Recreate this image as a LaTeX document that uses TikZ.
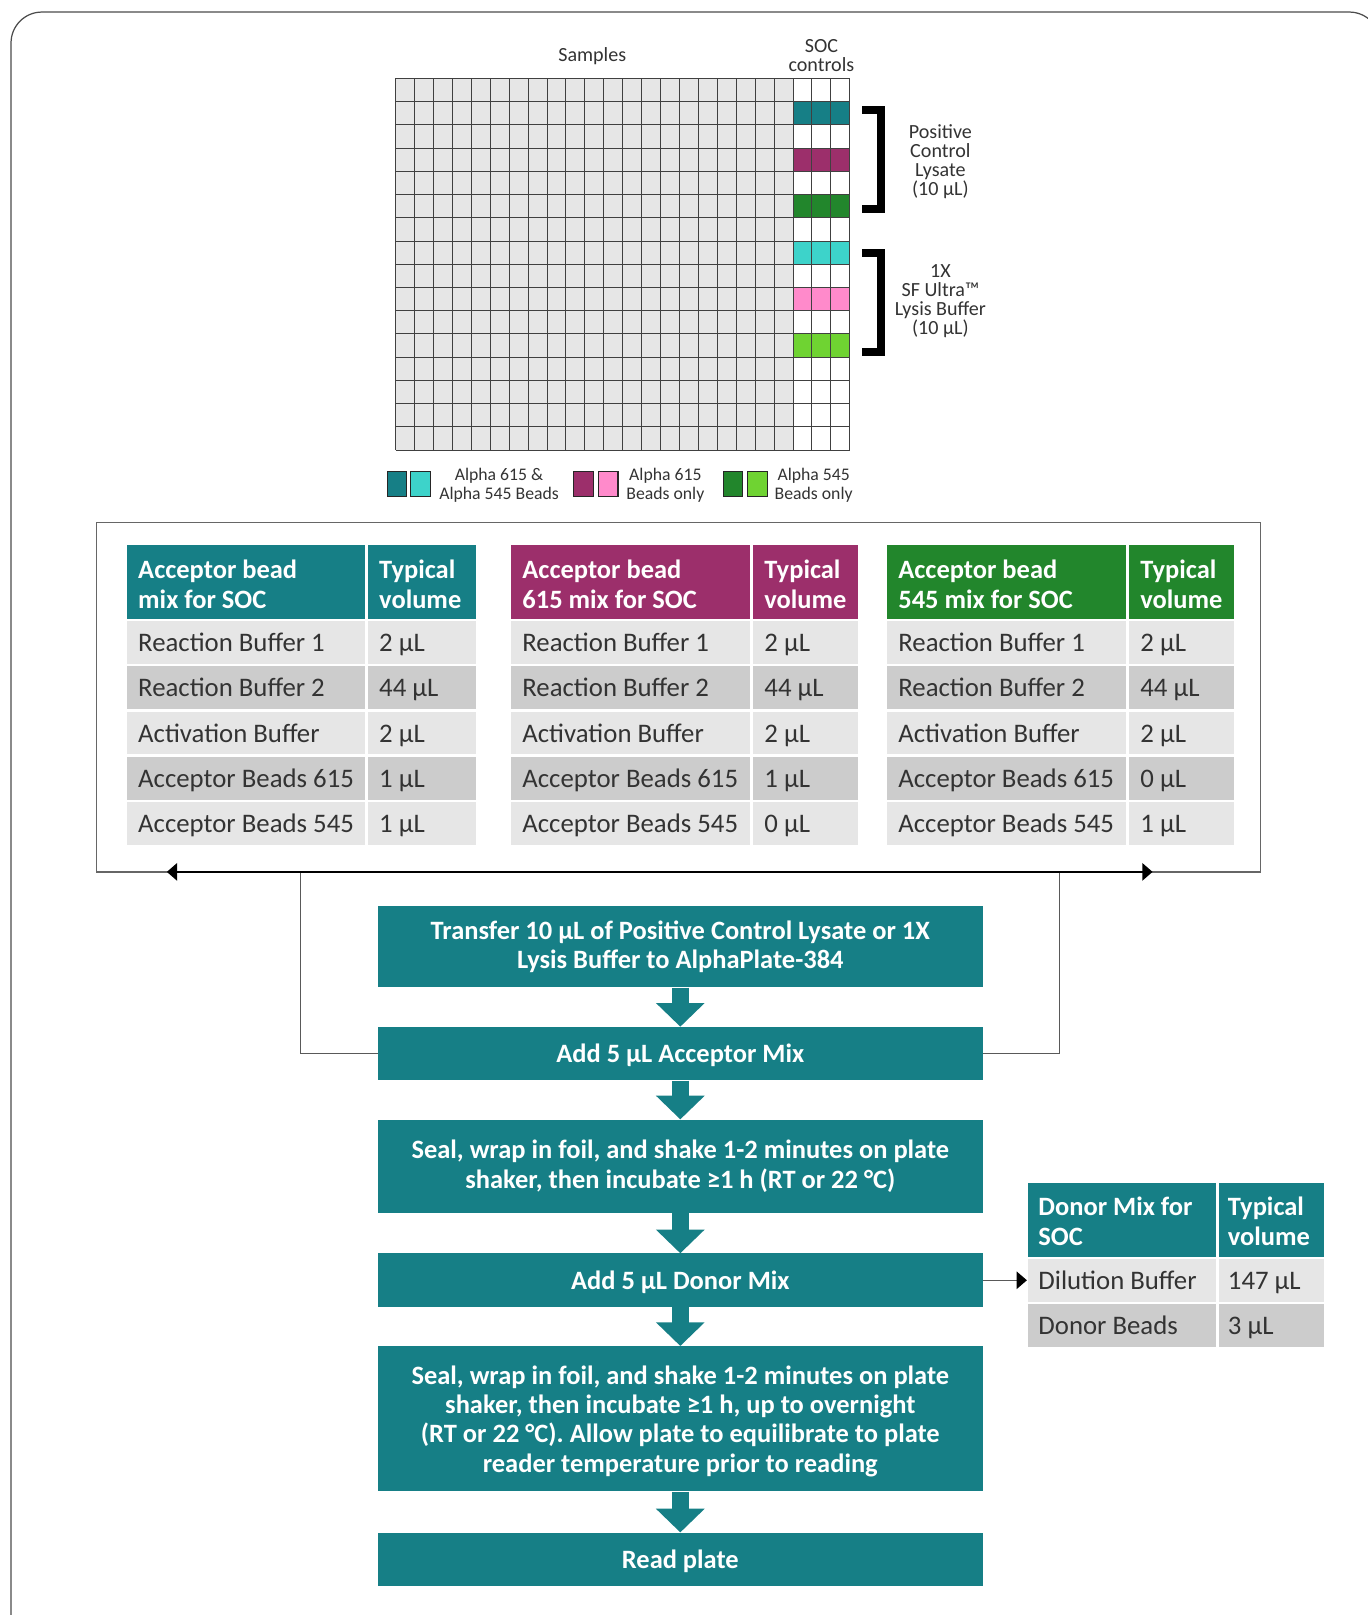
\documentclass[tikz,border=0pt]{standalone}
\usepackage{fontspec}
\setmainfont{Carlito}
\usetikzlibrary{arrows.meta}
\definecolor{socteal}{HTML}{167F86}
\definecolor{socmagenta}{HTML}{9C2F6B}
\definecolor{socgreen}{HTML}{22862C}
\definecolor{soccyan}{HTML}{3DD3CA}
\definecolor{socpink}{HTML}{FF8ACB}
\definecolor{soclime}{HTML}{6FD332}
\definecolor{wellgray}{HTML}{E6E6E6}
\definecolor{rowlight}{HTML}{E6E6E6}
\definecolor{rowdark}{HTML}{CCCCCC}
\begin{document}
\begin{tikzpicture}[x=1pt, y=-1pt]
    \tikzset{
      gridline/.style={draw=black!75, line width=0.8pt},
      platelabel/.style={text=black!80, inner sep=0pt, align=center, font=\fontsize{19.5}{18.5}\selectfont},
      legendbox/.style={draw=black!85, line width=1pt},
      legendlabel/.style={text=black!80, inner sep=0pt, align=center, font=\fontsize{17.2}{18}\selectfont},
      headtext/.style={anchor=west, align=left, inner sep=0pt, text=white, font=\bfseries\fontsize{25.7}{29}\selectfont},
      celltext/.style={anchor=base west, inner sep=0pt, text=black!80, font=\fontsize{26}{29}\selectfont},
      flowbox/.style={fill=socteal, text=white, inner sep=0pt, align=center, minimum width=587pt, font=\bfseries\fontsize{25.7}{28.5}\selectfont},
      flowarrow/.style={draw=socteal, line width=16pt, -{Triangle[width=46pt, length=23pt]}},
      link/.style={draw=black!65, line width=1.1pt},
      tip/.style={-{Triangle[black, width=17pt, length=10pt]}}
    }
    \useasboundingbox (0,0) rectangle (1328,1568);
    % outer frame
    \draw[black!70, line width=1.2pt, rounded corners=30pt] (10.7,11.7) rectangle (1340,1600);
    % plate : 24 x 16 wells, last 3 columns are the SOC controls
    \fill[wellgray] (384,76) rectangle (769.9,437);
    \fill[white] (769.9,76) rectangle (825,437);
    \foreach \r/\c in {1/socteal, 3/socmagenta, 5/socgreen, 7/soccyan, 9/socpink, 11/soclime}
      \fill[\c] (769.9,{76+\r*22.5625}) rectangle (825,{76+(\r+1)*22.5625});
    \foreach \i in {0,...,24}
      \draw[gridline] ({384+\i*18.375},76) -- ++(0,361);
    \foreach \j in {0,...,16}
      \draw[gridline] (384,{76+\j*22.5625}) -- ++(441,0);
    \node[platelabel] (samples) at (575,54.5) {Samples};
    \node[platelabel] (soc) at (797.5,53.5) {SOC\\controls};
    % brackets
    \draw[line width=8pt] (837,107) -- (855,107) -- (855,203) -- (837,203);
    \draw[line width=8pt] (837,245.5) -- (855,245.5) -- (855,341.5) -- (837,341.5);
    \node[platelabel] (pcl) at (913,157) {Positive\\Control\\Lysate\\(10 µL)};
    \node[platelabel] (lysis) at (913,292.5) {1X\\SF Ultra™\\Lysis Buffer\\(10 µL)};
    % legend
    \filldraw[legendbox, fill=socteal] (376,458) rectangle (395,482.5);
    \filldraw[legendbox, fill=soccyan] (399,458) rectangle (418,482.5);
    \filldraw[legendbox, fill=socmagenta] (557,458) rectangle (576,482.5);
    \filldraw[legendbox, fill=socpink] (581,458) rectangle (600,482.5);
    \filldraw[legendbox, fill=socgreen] (702,458) rectangle (721,482.5);
    \filldraw[legendbox, fill=soclime] (726,458) rectangle (745,482.5);
    \node[legendlabel] (lg1) at (484.5,471) {Alpha 615 \&\\Alpha 545 Beads};
    \node[legendlabel] (lg2) at (646,471) {Alpha 615\\Beads only};
    \node[legendlabel] (lg3) at (790,471) {Alpha 545\\Beads only};
    % acceptor tables
    \draw[black!60, line width=1.2pt] (94,507.5) rectangle (1224,846.5);
    \foreach \xa/\xb/\xc/\col/\hdr/\va/\vb [count=\t] in
      {123/356/462/socteal/mix for SOC/1/1, 496/730/833/socmagenta/615 mix for SOC/1/0, 861/1095/1198/socgreen/545 mix for SOC/0/1} {
      \fill[\col] (\xa,529.5) rectangle ({\xb-1.5},601);
      \fill[\col] ({\xb+1.5},529.5) rectangle (\xc,601);
      \node[headtext] (h\t-a) at ({\xa+11},567) {Acceptor bead\\\hdr};
      \node[headtext] (h\t-b) at ({\xb+12},567) {Typical\\volume};
      \foreach \lab/\val [count=\r] in {Reaction Buffer 1/2, Reaction Buffer 2/44, Activation Buffer/2, Acceptor Beads 615/\va, Acceptor Beads 545/\vb} {
        \pgfmathsetmacro\ytop{603+44*(\r-1)}
        \ifodd\r \def\rowcol{rowlight}\else\def\rowcol{rowdark}\fi
        \fill[\rowcol] (\xa,\ytop) rectangle ({\xb-1.5},{\ytop+41.5});
        \fill[\rowcol] ({\xb+1.5},\ytop) rectangle (\xc,{\ytop+41.5});
        \node[celltext] (c\t-\r-a) at ({\xa+11},{\ytop+29.6}) {\lab};
        \node[celltext] (c\t-\r-b) at ({\xb+12},{\ytop+29.6}) {\val~µL};
      }
    }
    % workflow
    \node[flowbox, minimum height=79.5pt] (s1) at (660.5,919) {Transfer 10 µL of Positive Control Lysate or 1X\\Lysis Buffer to AlphaPlate-384};
    \node[flowbox, minimum height=52pt, text depth=0pt] (s2) at (660.5,1023) {Add 5 µL Acceptor Mix};
    \node[flowbox, minimum height=90.5pt] (s3) at (660.5,1132.25) {Seal, wrap in foil, and shake 1-2 minutes on plate\\shaker, then incubate ≥1 h (RT or 22 °C)};
    \node[flowbox, minimum height=52pt, text depth=0pt] (s4) at (660.5,1243) {Add 5 µL Donor Mix};
    \node[flowbox, minimum height=141pt, text depth=0pt] (s5) at (660.5,1377.5) {Seal, wrap in foil, and shake 1-2 minutes on plate\\shaker, then incubate ≥1 h, up to overnight\\(RT or 22 °C). Allow plate to equilibrate to plate\\reader temperature prior to reading};
    \node[flowbox, minimum height=51.5pt, text depth=0pt] (s6) at (660.5,1513.75) {Read plate};
    \foreach \a/\b in {s1/s2, s2/s3, s3/s4, s4/s5, s5/s6}
      \draw[flowarrow] (\a) -- (\b);
    % acceptor mix goes back up to the tables
    \coordinate (lj) at (292,846.5);
    \coordinate (rj) at (1028.5,846.5);
    \coordinate (la) at (162,846.5);
    \coordinate (ra) at (1119,846.5);
    \draw[link] (s2.west) -| (lj);
    \draw[link] (s2.east) -| (rj);
    \draw[line width=1.6pt, tip] (lj) -- (la);
    \draw[line width=1.6pt, tip] (rj) -- (ra);
    \draw[line width=1.6pt] (lj) -- (rj);
    % donor table
    \fill[socteal] (998,1149) rectangle (1180.5,1220);
    \fill[socteal] (1183.5,1149) rectangle (1285,1220);
    \fill[rowlight] (998,1222.5) rectangle (1180.5,1264);
    \fill[rowlight] (1183.5,1222.5) rectangle (1285,1264);
    \fill[rowdark] (998,1266.5) rectangle (1180.5,1308);
    \fill[rowdark] (1183.5,1266.5) rectangle (1285,1308);
    \node[headtext] (dh-a) at (1008,1186) {Donor Mix for\\SOC};
    \node[headtext] (dh-b) at (1192,1186) {Typical\\volume};
    \node[celltext] (d1-a) at (1008,1252.1) {Dilution Buffer};
    \node[celltext] (d1-b) at (1192,1252.1) {147 µL};
    \node[celltext] (d2-a) at (1008,1296.1) {Donor Beads};
    \node[celltext] (d2-b) at (1192,1296.1) {3 µL};
    \coordinate (dt) at (997,1243);
    \draw[link, tip] (s4.east) -- (dt);
\end{tikzpicture}
\end{document}
